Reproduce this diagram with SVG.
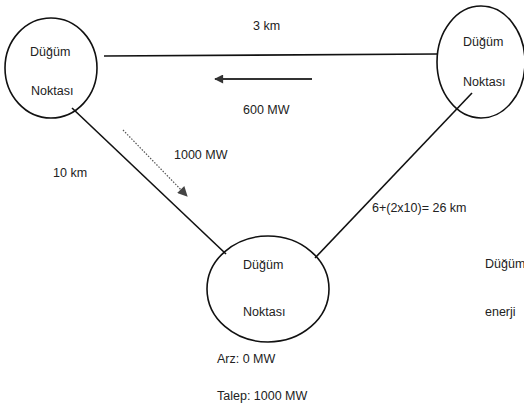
<svg xmlns="http://www.w3.org/2000/svg" width="524" height="410" viewBox="0 0 524 410">
<style>
.node{fill:none;stroke:#111;stroke-width:1.6}
.t{font-family:"Liberation Sans",Arial,sans-serif;font-size:12.5px;fill:#222}
.line{stroke:#111;stroke-width:1.6;fill:none}
.flow{stroke:#333;stroke-width:1.8;fill:none}
.dot{stroke:#555;stroke-width:1.2;stroke-dasharray:1.5 1.5;fill:none}
</style>
<defs>
<marker id="ah" viewBox="0 0 10 10" refX="9" refY="5" markerWidth="10" markerHeight="9" markerUnits="userSpaceOnUse" orient="auto">
<path d="M0,0 L10,5 L0,10 Z" fill="#333"/>
</marker>
<marker id="ah2" viewBox="0 0 10 10" refX="9" refY="5" markerWidth="11" markerHeight="10" markerUnits="userSpaceOnUse" orient="auto">
<path d="M0,0 L10,5 L0,10 Z" fill="#444"/>
</marker>
</defs>
<rect width="524" height="410" fill="#fff"/>
<g id="connectors">
<line class="line" x1="104" y1="56" x2="437" y2="54" stroke="#333" stroke-width="2"/>
<line class="line" x1="72" y1="108" x2="226" y2="254"/>
<line class="line" x1="472" y1="93" x2="315" y2="258"/>
<line class="flow" x1="312" y1="79" x2="215" y2="79" marker-end="url(#ah)"/>
<line class="dot" x1="123" y1="130" x2="187" y2="196" marker-end="url(#ah2)"/>
</g>
<g id="node-left">
<ellipse class="node" cx="51" cy="68" rx="46" ry="50"/>
<text class="t" x="30" y="56">Düğüm</text>
<text class="t" x="31" y="95">Noktası</text>
</g>
<g id="node-right">
<ellipse class="node" cx="481" cy="62" rx="44" ry="56"/>
<text class="t" x="463" y="46">Düğüm</text>
<text class="t" x="463" y="86">Noktası</text>
</g>
<g id="node-bottom">
<ellipse class="node" cx="268" cy="289" rx="61" ry="53"/>
<text class="t" x="243" y="269">Düğüm</text>
<text class="t" x="243" y="316">Noktası</text>
</g>
<g id="labels">
<text class="t" x="253" y="30">3 km</text>
<text class="t" x="243" y="114">600 MW</text>
<text class="t" x="174" y="159">1000 MW</text>
<text class="t" x="53" y="177">10 km</text>
<text class="t" x="372" y="212">6+(2x10)= 26 km</text>
<text class="t" x="217" y="363">Arz: 0 MW</text>
<text class="t" x="217" y="400">Talep: 1000 MW</text>
<text class="t" x="485" y="268">Düğüm</text>
<text class="t" x="485" y="316">enerji</text>
</g>
</svg>
